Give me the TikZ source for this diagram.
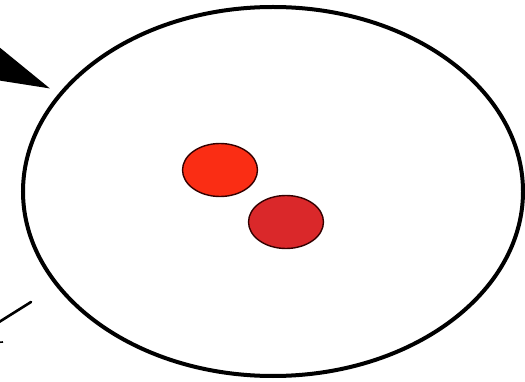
\documentclass[tikz,border=0pt]{standalone}
\usetikzlibrary{arrows.meta, shapes.geometric}
\definecolor{dotbright}{RGB}{250,45,20}
\definecolor{dotdark}{RGB}{218,40,42}
\tikzset{
  cellwall/.style = {draw, ellipse, line width=4pt, inner sep=0pt,
                     minimum width=500pt, minimum height=369pt},
  dot/.style      = {draw=black!80!red, ellipse, line width=1.4pt, inner sep=0pt,
                     minimum width=75pt, minimum height=53pt},
  pointer/.style  = {-{Triangle[length=70pt, width=37pt]}, line width=3pt},
  leader/.style   = {line width=2.6pt, line cap=round}
}
\begin{document}
\begin{tikzpicture}[x=1pt, y=-1pt]
  \useasboundingbox (0,0) rectangle (525,382);

  % -- cell and the two dots --------------------------------------------
  \node[cellwall]             (cell) at (273,191.5) {};
  \node[dot, fill=dotbright]  (dotA) at (220,170)   {};
  \node[dot, fill=dotdark]    (dotB) at (286,222)   {};

  % -- pointers coming in from the left ---------------------------------
  \coordinate (ptrA)   at (-90,26);
  \coordinate (ptrTip) at (50,88.5);
  \draw[pointer] (ptrA) -- (ptrTip);

  \coordinate (leadA) at (-20,334);
  \coordinate (leadB) at (31,302);
  \draw[leader] (leadA) -- (leadB);
  \coordinate (markA) at (-10,343);
  \coordinate (markB) at (3,342);
  \draw[line width=1.6pt] (markA) -- (markB);

\end{tikzpicture}
\end{document}
